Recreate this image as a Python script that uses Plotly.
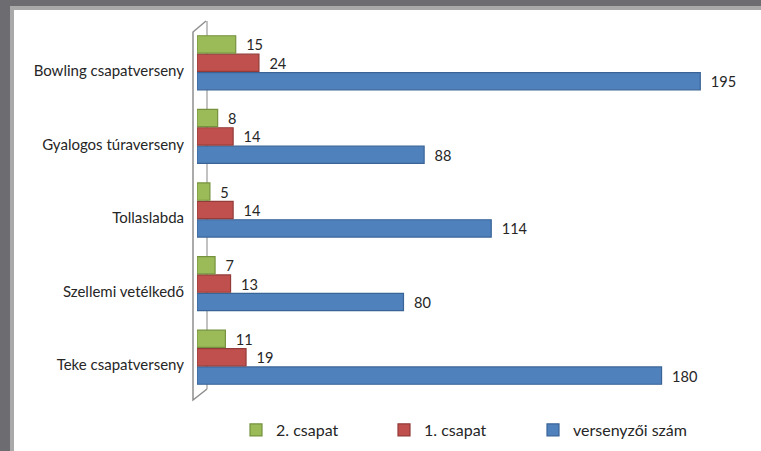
import plotly.graph_objects as go

categories = ["Teke csapatverseny", "Szellemi vetélkedő", "Tollaslabda",
              "Gyalogos túraverseny", "Bowling csapatverseny"]
versenyzoi = [180, 80, 114, 88, 195]
csapat1 = [19, 13, 14, 14, 24]
csapat2 = [11, 7, 5, 8, 15]

W, Hpx = 761, 451
L, R_end = 197, 739
T, B_end = 26, 394
PW, PH = R_end - L, B_end - T


def px(x):
    return (x - L) / PW


def py(y):
    return (B_end - y) / PH


font = "Lato, 'Open Sans', sans-serif"
txtcol = "#262626"

fig = go.Figure()
series = [
    ("versenyzői szám", versenyzoi, "#4f81bd", "#3a6496", "legend3"),
    ("1. csapat", csapat1, "#c0504d", "#923b39", "legend2"),
    ("2. csapat", csapat2, "#9bbb59", "#76923f", "legend"),
]
for name, vals, col, edge, lg in series:
    fig.add_trace(go.Bar(
        y=categories, x=vals, name=name, orientation="h",
        marker=dict(color=col, line=dict(color=edge, width=1.2)),
        texttemplate="  %{x}", textposition="outside",
        textfont=dict(family=font, size=16, color=txtcol),
        cliponaxis=False, legend=lg,
    ))

dark, light = "#6d6c71", "#a9a9a9"
shapes = [
    # frame bands (top and left)
    dict(type="rect", xref="paper", yref="paper", x0=px(-5), x1=px(W + 5),
         y0=py(6), y1=py(-5), fillcolor=dark, line=dict(width=0), layer="below"),
    dict(type="rect", xref="paper", yref="paper", x0=px(-5), x1=px(10),
         y0=py(Hpx + 5), y1=py(-5), fillcolor=dark, line=dict(width=0), layer="below"),
    dict(type="rect", xref="paper", yref="paper", x0=px(10), x1=px(W + 5),
         y0=py(10), y1=py(6), fillcolor=light, line=dict(width=0), layer="below"),
    dict(type="rect", xref="paper", yref="paper", x0=px(10), x1=px(14),
         y0=py(Hpx + 5), y1=py(6), fillcolor=light, line=dict(width=0), layer="below"),
    # 3D wall outline
    dict(type="line", xref="paper", yref="paper", x0=px(207), x1=px(207),
         y0=py(389), y1=py(21), line=dict(color="#9a9a9a", width=1.2), layer="below"),
    dict(type="path", xref="paper", yref="paper",
         path=f"M{px(206)},{py(21)} L{px(193)},{py(32)} L{px(193)},{py(400)} L{px(207)},{py(389)}",
         line=dict(color="#8e8e8e", width=1.5), layer="below"),
]

leg_common = dict(orientation="h", yanchor="middle", xanchor="left",
                  font=dict(family=font, size=16, color=txtcol),
                  bgcolor="rgba(0,0,0,0)", itemwidth=30)
ly = py(430)

fig.update_layout(
    width=W, height=Hpx,
    margin=dict(l=L, r=W - R_end, t=T, b=Hpx - B_end, pad=0, autoexpand=False),
    paper_bgcolor="#ffffff", plot_bgcolor="rgba(0,0,0,0)",
    barmode="group", bargap=0.25, bargroupgap=0.06,
    shapes=shapes,
    xaxis=dict(range=[0, 210], visible=False, showgrid=False, zeroline=False),
    yaxis=dict(categoryorder="array", categoryarray=categories, showgrid=False,
               zeroline=False, showline=False, ticks="", automargin=False,
               tickfont=dict(family=font, size=15, color=txtcol),
               ticklabelstandoff=12, ticklabelshift=8),
    legend=dict(x=px(236), y=ly, **leg_common),
    legend2=dict(x=px(384), y=ly, **leg_common),
    legend3=dict(x=px(533), y=ly, **leg_common),
    showlegend=True,
)

fig.write_html(
    "out.html", config={"displayModeBar": False},
    post_script=("document.documentElement.style.margin='0';"
                 "document.documentElement.style.background='#ffffff';"
                 "document.body.style.margin='0';document.body.style.padding='0';"
                 "document.body.style.background='#ffffff';"
                 "document.body.style.overflow='hidden';"))
